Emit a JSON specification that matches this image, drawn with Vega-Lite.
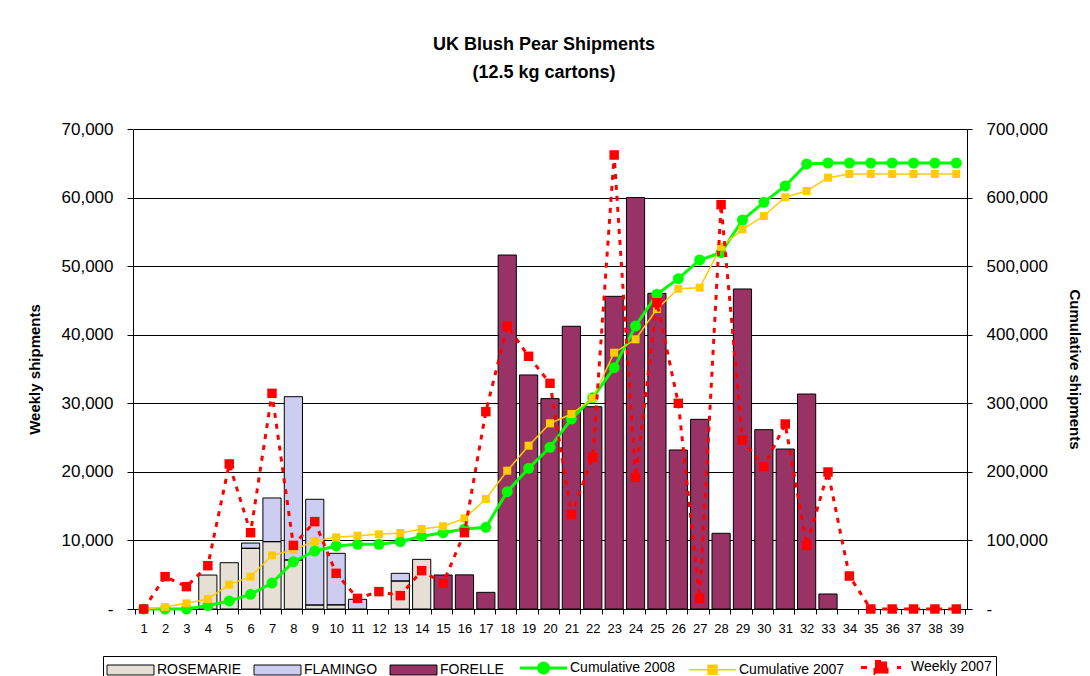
{
  "$schema": "https://vega.github.io/schema/vega-lite/v6.json",
  "width": 834,
  "height": 480,
  "autosize": {"type": "none"},
  "padding": {"left": 133, "top": 129, "right": 123, "bottom": 67},
  "background": "white",
  "config": {
    "font": "Liberation Sans",
    "view": {"stroke": null},
    "axis": {"labelColor": "black", "titleColor": "black", "domainColor": "black", "tickColor": "black", "labelFont": "Liberation Sans", "titleFont": "Liberation Sans"}
  },
  "title": {
    "text": ["UK Blush Pear Shipments", "(12.5 kg cartons)"],
    "fontSize": 18,
    "fontWeight": "bold",
    "lineHeight": 28,
    "offset": 38,
    "anchor": "middle",
    "frame": "group",
    "dx": -6,
    "color": "black"
  },
  "data": {
    "values": [
      {"week": 1, "ROSEMARIE": 0, "FLAMINGO": 0, "FORELLE": 0, "cum2008": 0, "cum2007": 0, "weekly2007": 0},
      {"week": 2, "ROSEMARIE": 0, "FLAMINGO": 0, "FORELLE": 0, "cum2008": 0, "cum2007": 2900, "weekly2007": 4720},
      {"week": 3, "ROSEMARIE": 0, "FLAMINGO": 0, "FORELLE": 0, "cum2008": 0, "cum2007": 8300, "weekly2007": 3260},
      {"week": 4, "ROSEMARIE": 4950, "FLAMINGO": 0, "FORELLE": 0, "cum2008": 4900, "cum2007": 14600, "weekly2007": 6320},
      {"week": 5, "ROSEMARIE": 6750, "FLAMINGO": 0, "FORELLE": 0, "cum2008": 11700, "cum2007": 35500, "weekly2007": 21150},
      {"week": 6, "ROSEMARIE": 8850, "FLAMINGO": 770, "FORELLE": 0, "cum2008": 21400, "cum2007": 47200, "weekly2007": 11130},
      {"week": 7, "ROSEMARIE": 9820, "FLAMINGO": 6370, "FORELLE": 0, "cum2008": 37900, "cum2007": 78300, "weekly2007": 31450},
      {"week": 8, "ROSEMARIE": 7150, "FLAMINGO": 23810, "FORELLE": 0, "cum2008": 69000, "cum2007": 86000, "weekly2007": 9280},
      {"week": 9, "ROSEMARIE": 580, "FLAMINGO": 15420, "FORELLE": 0, "cum2008": 84600, "cum2007": 99200, "weekly2007": 12740},
      {"week": 10, "ROSEMARIE": 600, "FLAMINGO": 7520, "FORELLE": 0, "cum2008": 91900, "cum2007": 104500, "weekly2007": 5200},
      {"week": 11, "ROSEMARIE": 0, "FLAMINGO": 1410, "FORELLE": 0, "cum2008": 94300, "cum2007": 106900, "weekly2007": 1550},
      {"week": 12, "ROSEMARIE": 0, "FLAMINGO": 0, "FORELLE": 0, "cum2008": 94300, "cum2007": 108900, "weekly2007": 2530},
      {"week": 13, "ROSEMARIE": 4080, "FLAMINGO": 1120, "FORELLE": 0, "cum2008": 98200, "cum2007": 110800, "weekly2007": 1950},
      {"week": 14, "ROSEMARIE": 7240, "FLAMINGO": 0, "FORELLE": 0, "cum2008": 106000, "cum2007": 116700, "weekly2007": 5590},
      {"week": 15, "ROSEMARIE": 0, "FLAMINGO": 0, "FORELLE": 4960, "cum2008": 111300, "cum2007": 120600, "weekly2007": 3740},
      {"week": 16, "ROSEMARIE": 0, "FLAMINGO": 0, "FORELLE": 4980, "cum2008": 116700, "cum2007": 132200, "weekly2007": 11130},
      {"week": 17, "ROSEMARIE": 0, "FLAMINGO": 0, "FORELLE": 2430, "cum2008": 119100, "cum2007": 160400, "weekly2007": 28780},
      {"week": 18, "ROSEMARIE": 0, "FLAMINGO": 0, "FORELLE": 51620, "cum2008": 171100, "cum2007": 201700, "weekly2007": 41270},
      {"week": 19, "ROSEMARIE": 0, "FLAMINGO": 0, "FORELLE": 34130, "cum2008": 205200, "cum2007": 238200, "weekly2007": 36850},
      {"week": 20, "ROSEMARIE": 0, "FLAMINGO": 0, "FORELLE": 30680, "cum2008": 235800, "cum2007": 270800, "weekly2007": 32910},
      {"week": 21, "ROSEMARIE": 0, "FLAMINGO": 0, "FORELLE": 41230, "cum2008": 277100, "cum2007": 284400, "weekly2007": 13800},
      {"week": 22, "ROSEMARIE": 0, "FLAMINGO": 0, "FORELLE": 29500, "cum2008": 308200, "cum2007": 307300, "weekly2007": 22120},
      {"week": 23, "ROSEMARIE": 0, "FLAMINGO": 0, "FORELLE": 45600, "cum2008": 351900, "cum2007": 373800, "weekly2007": 66210},
      {"week": 24, "ROSEMARIE": 0, "FLAMINGO": 0, "FORELLE": 60000, "cum2008": 412700, "cum2007": 393300, "weekly2007": 19200},
      {"week": 25, "ROSEMARIE": 0, "FLAMINGO": 0, "FORELLE": 46040, "cum2008": 459000, "cum2007": 437500, "weekly2007": 44670},
      {"week": 26, "ROSEMARIE": 0, "FLAMINGO": 0, "FORELLE": 23190, "cum2008": 481700, "cum2007": 467100, "weekly2007": 30000},
      {"week": 27, "ROSEMARIE": 0, "FLAMINGO": 0, "FORELLE": 27660, "cum2008": 509000, "cum2007": 468600, "weekly2007": 1550},
      {"week": 28, "ROSEMARIE": 0, "FLAMINGO": 0, "FORELLE": 11040, "cum2008": 519600, "cum2007": 528400, "weekly2007": 58960},
      {"week": 29, "ROSEMARIE": 0, "FLAMINGO": 0, "FORELLE": 46670, "cum2008": 567300, "cum2007": 553700, "weekly2007": 24650},
      {"week": 30, "ROSEMARIE": 0, "FLAMINGO": 0, "FORELLE": 26150, "cum2008": 593100, "cum2007": 573100, "weekly2007": 20760},
      {"week": 31, "ROSEMARIE": 0, "FLAMINGO": 0, "FORELLE": 23330, "cum2008": 616900, "cum2007": 600400, "weekly2007": 26980},
      {"week": 32, "ROSEMARIE": 0, "FLAMINGO": 0, "FORELLE": 31350, "cum2008": 649000, "cum2007": 609600, "weekly2007": 9280},
      {"week": 33, "ROSEMARIE": 0, "FLAMINGO": 0, "FORELLE": 2190, "cum2008": 650400, "cum2007": 629000, "weekly2007": 19980},
      {"week": 34, "ROSEMARIE": 0, "FLAMINGO": 0, "FORELLE": 0, "cum2008": 650400, "cum2007": 634400, "weekly2007": 4810},
      {"week": 35, "ROSEMARIE": 0, "FLAMINGO": 0, "FORELLE": 0, "cum2008": 650400, "cum2007": 634400, "weekly2007": 0},
      {"week": 36, "ROSEMARIE": 0, "FLAMINGO": 0, "FORELLE": 0, "cum2008": 650400, "cum2007": 634400, "weekly2007": 0},
      {"week": 37, "ROSEMARIE": 0, "FLAMINGO": 0, "FORELLE": 0, "cum2008": 650400, "cum2007": 634400, "weekly2007": 0},
      {"week": 38, "ROSEMARIE": 0, "FLAMINGO": 0, "FORELLE": 0, "cum2008": 650400, "cum2007": 634400, "weekly2007": 0},
      {"week": 39, "ROSEMARIE": 0, "FLAMINGO": 0, "FORELLE": 0, "cum2008": 650400, "cum2007": 634400, "weekly2007": 0}
    ]
  },
  "encoding": {
    "x": {
      "field": "week",
      "type": "ordinal",
      "scale": {"paddingInner": 0.15, "paddingOuter": 0.075},
      "axis": {
        "title": null,
        "labelAngle": 0,
        "labelFontSize": 13,
        "labelPadding": 8,
        "tickSize": 5,
        "tickBand": "extent",
        "grid": false
      }
    }
  },
  "layer": [
    {
      "transform": [
        {"fold": ["ROSEMARIE", "FLAMINGO", "FORELLE"], "as": ["series", "value"]},
        {"filter": "datum.value > 0"}
      ],
      "mark": {"type": "bar"},
      "encoding": {
        "y": {
          "field": "value",
          "type": "quantitative",
          "stack": "zero",
          "scale": {"domain": [0, 70000], "nice": false},
          "axis": {
            "orient": "left",
            "title": "Weekly shipments",
            "titleFontSize": 15,
            "titleFontWeight": "bold",
            "titlePadding": 19,
            "values": [0, 10000, 20000, 30000, 40000, 50000, 60000, 70000],
            "labelExpr": "datum.value == 0 ? '-    ' : format(datum.value, ',')",
            "labelFontSize": 17,
            "labelPadding": 14,
            "tickSize": 6,
            "grid": true,
            "gridColor": "black",
            "gridWidth": 1,
            "gridOpacity": 1
          }
        },
        "color": {
          "field": "series",
          "type": "nominal",
          "scale": {
            "domain": ["ROSEMARIE", "FLAMINGO", "FORELLE", "Cumulative 2008", "Cumulative 2007", "Weekly 2007"],
            "range": ["#E6DFD6", "#CCCDF1", "#993366", "#00FF00", "#FFCC00", "#FF0000"]
          },
          "legend": {
            "orient": "none",
            "legendX": -30,
            "legendY": 527,
            "direction": "horizontal",
            "columns": 6,
            "title": null,
            "labelFontSize": 14,
            "labelColor": "black",
            "labelFont": "Liberation Sans",
            "labelLimit": 300,
            "symbolSize": 196,
            "labelOffset": 36,
            "columnPadding": 10,
            "padding": 4,
            "strokeColor": "black",
            "fillColor": "white",
            "symbolOpacity": 1,
            "symbolType": {"expr": "datum.value === 'Cumulative 2008' ? 'M-1,0H5.71M1.65,0A0.71,0.71 0 1,0 3.07,0A0.71,0.71 0 1,0 1.65,0Z' : datum.value === 'Cumulative 2007' ? 'M-1,0H5.71M1.72,-0.64H3V0.64H1.72Z' : datum.value === 'Weekly 2007' ? 'M-1,0H4.71M1,-0.86H2.72V0.86H1Z' : 'M-1,-0.71H5.71V0.71H-1Z'"},
            "symbolStrokeColor": {"expr": "datum.value === 'Cumulative 2008' ? '#00FF00' : datum.value === 'Cumulative 2007' ? '#FFCC00' : datum.value === 'Weekly 2007' ? '#FF0000' : 'black'"},
            "symbolStrokeWidth": {"expr": "datum.value === 'Cumulative 2008' ? 3 : datum.value === 'Cumulative 2007' ? 1.5 : datum.value === 'Weekly 2007' ? 3 : 1"},
            "symbolDash": {"expr": "datum.value === 'Weekly 2007' ? [6, 12] : [1, 0]"}
          }
        },
        "order": {"field": "series", "sort": "descending"}
      }
    },
    {
      "transform": [
        {"fold": ["ROSEMARIE", "FLAMINGO", "FORELLE"], "as": ["series", "value"]},
        {"filter": "datum.value > 0"}
      ],
      "mark": {"type": "bar", "fill": null, "fillOpacity": 0, "stroke": "black", "strokeWidth": 1},
      "encoding": {
        "y": {
          "field": "value",
          "type": "quantitative",
          "stack": "zero",
          "scale": {"domain": [0, 70000], "nice": false},
          "axis": null
        },
        "detail": {"field": "series"},
        "order": {"field": "series", "sort": "descending"}
      }
    },
    {
      "mark": {
        "type": "line",
        "color": "#00FF00",
        "strokeWidth": 3,
        "point": {"filled": true, "shape": "circle", "size": 121, "color": "#00FF00", "opacity": 1}
      },
      "encoding": {
        "y": {
          "field": "cum2008",
          "type": "quantitative",
          "scale": {"domain": [0, 700000], "nice": false},
          "axis": {
            "orient": "right",
            "title": "Cumulative shipments",
            "titleFontSize": 15,
            "titleFontWeight": "bold",
            "titlePadding": 19,
            "values": [0, 100000, 200000, 300000, 400000, 500000, 600000, 700000],
            "labelExpr": "datum.value == 0 ? '-' : format(datum.value, ',')",
            "labelFontSize": 17,
            "labelPadding": 14,
            "tickSize": 5,
            "grid": false
          }
        }
      }
    },
    {
      "mark": {
        "type": "line",
        "color": "#FFCC00",
        "strokeWidth": 1.5,
        "point": {"filled": true, "shape": "square", "size": 64, "color": "#FFCC00", "opacity": 1}
      },
      "encoding": {
        "y": {
          "field": "cum2007",
          "type": "quantitative",
          "scale": {"domain": [0, 700000], "nice": false},
          "axis": null
        }
      }
    },
    {
      "mark": {
        "type": "line",
        "color": "#FF0000",
        "strokeWidth": 3,
        "strokeDash": [5, 6],
        "strokeCap": "butt",
        "point": {"filled": true, "shape": "square", "size": 90, "color": "#FF0000", "opacity": 1}
      },
      "encoding": {
        "y": {
          "field": "weekly2007",
          "type": "quantitative",
          "scale": {"domain": [0, 70000], "nice": false},
          "axis": null
        }
      }
    }
  ],
  "resolve": {"scale": {"y": "independent"}}
}
